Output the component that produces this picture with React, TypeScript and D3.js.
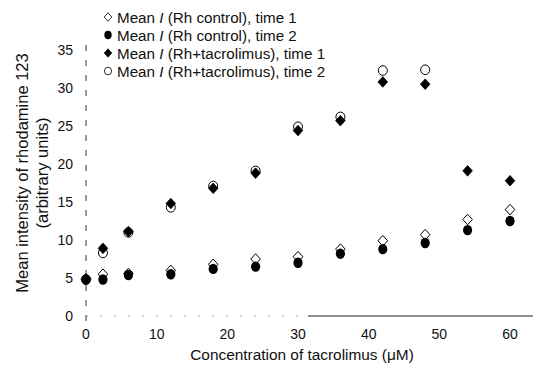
import React from "react";
import * as d3 from "d3";

const conc = [0, 2.4, 6, 12, 18, 24, 30, 36, 42, 48, 54, 60];
const ctrlT1 = [4.9, 5.5, 5.6, 6.0, 6.8, 7.5, 7.8, 8.8, 9.9, 10.7, 12.7, 14.0];
const ctrlT2 = [4.8, 4.8, 5.4, 5.5, 6.2, 6.5, 7.0, 8.2, 8.8, 9.6, 11.3, 12.5];
const tacT1 = [4.8, 8.9, 11.1, 14.8, 16.8, 18.8, 24.4, 25.7, 30.8, 30.5, 19.1, 17.8];
const tacT2: (number | null)[] = [4.8, 8.3, 11.0, 14.3, 17.1, 19.1, 24.9, 26.2, 32.3, 32.4, null, null];
const xTicks = [0, 10, 20, 30, 40, 50, 60];
const yTicks = [0, 5, 10, 15, 20, 25, 30, 35];
const legendLabels = [
  "(Rh control), time 1",
  "(Rh control), time 2",
  "(Rh+tacrolimus), time 1",
  "(Rh+tacrolimus), time 2",
];

const FONT = "'Liberation Sans', Arial, Helvetica, sans-serif";

const x = d3.scaleLinear().domain([0, 60]).range([86, 510]);
const y = d3.scaleLinear().domain([0, 35]).range([316, 50]);

const diamondPath = (cx: number, cy: number, w = 4.8, h = 5.3) =>
  `M${cx},${cy - h}L${cx + w},${cy}L${cx},${cy + h}L${cx - w},${cy}Z`;

type Kind = "openDiamond" | "filledCircle" | "filledDiamond" | "openCircle";

function Marker({ kind, cx, cy }: { kind: Kind; cx: number; cy: number }) {
  if (kind === "openDiamond")
    return <path d={diamondPath(cx, cy)} fill="#fff" stroke="#000" strokeWidth={1} />;
  if (kind === "filledDiamond")
    return <path d={diamondPath(cx, cy)} fill="#000" stroke="#000" strokeWidth={0.8} />;
  if (kind === "filledCircle")
    return <ellipse cx={cx} cy={cy} rx={4.6} ry={5.2} fill="#000" />;
  return <ellipse cx={cx} cy={cy} rx={4.5} ry={4.8} fill="#fff" stroke="#000" strokeWidth={1} />;
}

const series: { kind: Kind; vals: (number | null)[] }[] = [
  { kind: "openDiamond", vals: ctrlT1 },
  { kind: "openCircle", vals: tacT2 },
  { kind: "filledCircle", vals: ctrlT2 },
  { kind: "filledDiamond", vals: tacT1 },
];

const legendKinds: Kind[] = ["openDiamond", "filledCircle", "filledDiamond", "openCircle"];

export default function App() {
  return (
    <svg width={533} height={373} style={{ position: "absolute", left: 0, top: 0, background: "#fff" }}>
      <rect x={0} y={0} width={533} height={373} fill="#fff" />
      {/* y axis */}
      <line x1={86} x2={86} y1={45} y2={326} stroke="#333" strokeWidth={1} strokeDasharray="6,9" />
      {/* x axis */}
      <line x1={86} x2={306} y1={y(0)} y2={y(0)} stroke="#888" strokeWidth={0.8} strokeDasharray="2,12" />
      <line x1={308} x2={533} y1={y(0)} y2={y(0)} stroke="#222" strokeWidth={1} />
      {yTicks.map((t) => (
        <text key={t} x={73} y={y(t) + 5} textAnchor="end" fontFamily={FONT} fontSize={14} fill="#111">
          {t}
        </text>
      ))}
      {xTicks.map((t) => (
        <text key={t} x={x(t)} y={339} textAnchor="middle" fontFamily={FONT} fontSize={14} fill="#111">
          {t}
        </text>
      ))}
      <text x={302} y={360} textAnchor="middle" fontFamily={FONT} fontSize={15.4} fill="#111">
        Concentration of tacrolimus (μM)
      </text>
      <g transform="translate(0,173) rotate(-90)">
        <text x={0} y={28} textAnchor="middle" fontFamily={FONT} fontSize={16.5} fill="#111">
          Mean intensity of rhodamine 123
        </text>
        <text x={0} y={48} textAnchor="middle" fontFamily={FONT} fontSize={16.5} fill="#111">
          (arbitrary units)
        </text>
      </g>
      {series.map((s) => (
        <g key={s.kind}>
          {s.vals.map((v, i) =>
            v == null ? null : <Marker key={i} kind={s.kind} cx={x(conc[i])} cy={y(v)} />
          )}
        </g>
      ))}
      {legendLabels.map((l, i) => (
        <g key={i}>
          <g transform={`translate(108,${17 + i * 18}) scale(0.8)`}>
            <Marker kind={legendKinds[i]} cx={0} cy={0} />
          </g>
          <text x={117} y={17 + i * 18 + 5.5} fontFamily={FONT} fontSize={15.2} fill="#111">
            Mean <tspan fontStyle="italic">I</tspan> {l}
          </text>
        </g>
      ))}
    </svg>
  );
}
